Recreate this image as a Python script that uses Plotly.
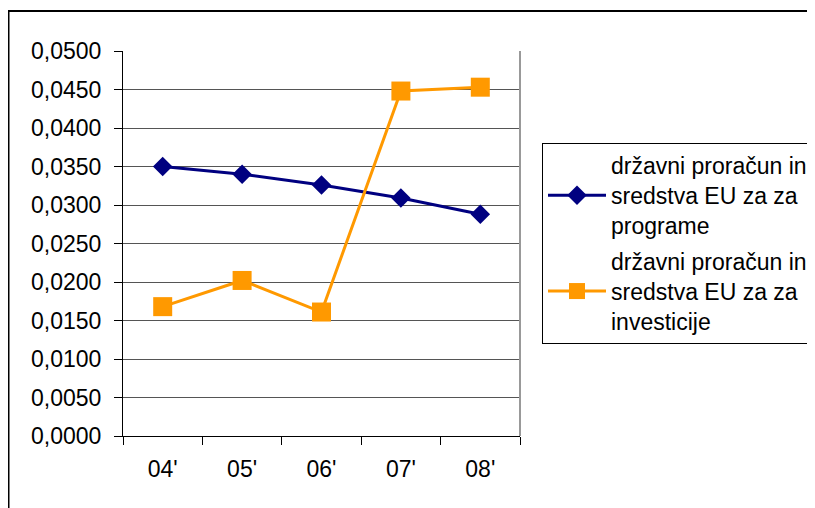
import plotly.graph_objects as go

categories = ["04'", "05'", "06'", "07'", "08'"]
programi = [0.0350, 0.0340, 0.0326, 0.0309, 0.0288]
investicije = [0.0168, 0.0202, 0.0161, 0.0448, 0.0453]
name_programi = "državni proračun in<br>sredstva EU za za<br>programe"
name_investicije = "državni proračun in<br>sredstva EU za za<br>investicije"

FONT = "Liberation Sans, Arial, sans-serif"
FS = 23

fig = go.Figure()
fig.add_trace(go.Scatter(
    x=categories, y=programi, name=name_programi, mode="lines+markers",
    legendgroup="a",
    line=dict(color="#000080", width=3),
    marker=dict(symbol="diamond", size=15, color="#000080"),
))
fig.add_trace(go.Scatter(
    x=categories, y=investicije, name=name_investicije, mode="lines+markers",
    legendgroup="b",
    line=dict(color="#FF9900", width=3),
    marker=dict(symbol="square", size=19, color="#FF9900"),
))

# page has an 8px body margin; compensate
OFF = 8
L, R, T, B = 123 - OFF, 520 - OFF, 51 - OFF, 436 - OFF
W, H = 815, 508
pw, ph = R - L, B - T

def px(x):
    return (x - OFF - L) / pw

def py(y):
    return (B - (y - OFF)) / ph

fig.update_layout(
    width=W, height=H,
    margin=dict(l=L, r=W - R, t=T, b=H - B, autoexpand=False),
    paper_bgcolor="white", plot_bgcolor="white",
    separators=", ",
    font=dict(family=FONT, size=FS, color="black"),
    showlegend=True,
    legend=dict(
        x=px(542), y=py(143), xanchor="left", yanchor="top",
        bordercolor="black", borderwidth=1, bgcolor="white",
        font=dict(family=FONT, size=FS, color="black"),
        itemwidth=58, tracegroupgap=3,
    ),
    xaxis=dict(
        type="category", tickson="boundaries", ticks="outside", ticklen=8,
        tickcolor="black", showline=True, linecolor="black", linewidth=1,
        showgrid=False, ticklabelstandoff=12, range=[-0.5, 4.5],
        tickfont=dict(family=FONT, size=FS),
    ),
    yaxis=dict(
        range=[0, 0.05], dtick=0.005, tickformat=".4f", ticks="outside",
        ticklen=8, tickcolor="black", showline=True, linecolor="black",
        linewidth=1, showgrid=True, gridcolor="#555555", gridwidth=1,
        zeroline=False, ticklabelstandoff=8,
        tickfont=dict(family=FONT, size=FS),
    ),
    shapes=[
        dict(type="line", xref="paper", yref="paper", x0=1, x1=1, y0=0, y1=1,
             line=dict(color="#999999", width=2)),
        dict(type="rect", xref="paper", yref="paper",
             x0=px(8.5), x1=px(840), y0=py(540), y1=py(11),
             line=dict(color="black", width=2), layer="above"),
    ],
)

fig.write_html("out.html")
